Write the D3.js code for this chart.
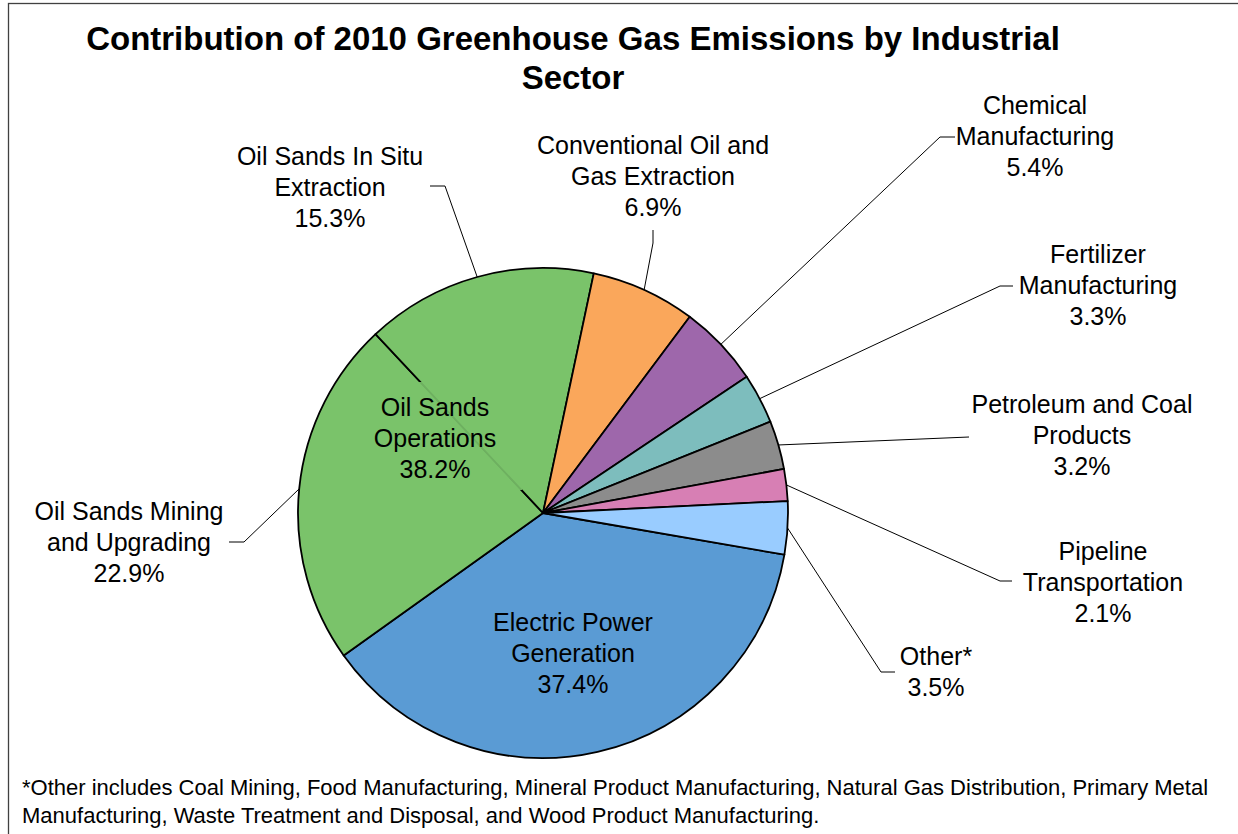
<!DOCTYPE html>
<html>
<head>
<meta charset="utf-8">
<script src="https://cdn.jsdelivr.net/npm/d3@7"></script>
<style>
  html, body { margin: 0; padding: 0; background: #fff; }
  svg text { font-family: "Liberation Sans", Arial, sans-serif; fill: #000; }
</style>
</head>
<body>
<svg id="chart" width="1238" height="834"></svg>
<script>
// ---- data ----
const sectors = [
  "Electric Power Generation",
  "Oil Sands Mining and Upgrading",
  "Oil Sands In Situ Extraction",
  "Conventional Oil and Gas Extraction",
  "Chemical Manufacturing",
  "Fertilizer Manufacturing",
  "Petroleum and Coal Products",
  "Pipeline Transportation",
  "Other*"
];
const labelLines = [
  ["Electric Power", "Generation"],
  ["Oil Sands Mining", "and Upgrading"],
  ["Oil Sands In Situ", "Extraction"],
  ["Conventional Oil and", "Gas Extraction"],
  ["Chemical", "Manufacturing"],
  ["Fertilizer", "Manufacturing"],
  ["Petroleum and Coal", "Products"],
  ["Pipeline", "Transportation"],
  ["Other*"]
];
const values = [37.4, 22.9, 15.3, 6.9, 5.4, 3.3, 3.2, 2.1, 3.5];
const colors = ["#5A9BD4", "#7AC36A", "#7AC36A", "#FAA75B", "#9E67AB", "#7DBDBD", "#8C8C8C", "#D77FB4", "#99CCFF"];
const groupLabel = ["Oil Sands", "Operations"];
const groupMembers = [1, 2];
const titleLines = ["Contribution of 2010 Greenhouse Gas Emissions by Industrial", "Sector"];
const footnoteLines = [
  "*Other includes Coal Mining, Food Manufacturing, Mineral Product Manufacturing, Natural Gas Distribution, Primary Metal",
  "Manufacturing, Waste Treatment and Disposal, and Wood Product Manufacturing."
];

// ---- layout ----
const cx = 543, cy = 513, R = 245;
const startDeg = 99.8;
const lineGap = 31;
const labelLayout = [
  { x: 573, y: 631 },
  { x: 129, y: 520, leader: [[244, 542], [229, 542]] },
  { x: 330, y: 165, leader: [[445, 186], [430, 186]] },
  { x: 653, y: 154, leader: [[653, 243], [653, 230]] },
  { x: 1035, y: 114, leader: [[940, 137], [955, 137]] },
  { x: 1098, y: 263, leader: [[1000, 286], [1013, 286]] },
  { x: 1082, y: 413, leader: [[969, 437]] },
  { x: 1103, y: 560, leader: [[1000, 581], [1012, 581]] },
  { x: 936, y: 665, leader: [[881, 672], [895, 672]] }
];
const groupLayout = { x: 435, y: 416, box: [348, 382, 174, 108] };

const svg = d3.select("#chart");

// frame
svg.append("rect")
  .attr("x", 8.5).attr("y", 3.5).attr("width", 1240).attr("height", 840)
  .attr("fill", "#fff").attr("stroke", "#404040").attr("stroke-width", 1.3);

// title
svg.append("g").selectAll("text").data(titleLines).join("text")
  .attr("x", 573).attr("y", (d, i) => 50 + i * 39)
  .attr("text-anchor", "middle")
  .attr("font-size", 33).attr("font-weight", "bold")
  .text(d => d);

// pie
const rad = Math.PI / 180;
const pie = d3.pie().sort(null).value(d => d)
  .startAngle(startDeg * rad).endAngle(startDeg * rad + 2 * Math.PI);
const arcs = pie(values);
const arc = d3.arc().innerRadius(0).outerRadius(R);

const g = svg.append("g").attr("transform", `translate(${cx},${cy})`);
g.selectAll("path").data(arcs).join("path")
  .attr("d", arc)
  .attr("fill", (d, i) => colors[i])
  .attr("stroke", "#000").attr("stroke-width", 1.8).attr("stroke-linejoin", "round");

// group label box over the oil sands boundary
const b = groupLayout.box;
svg.append("rect")
  .attr("x", b[0]).attr("y", b[1]).attr("width", b[2]).attr("height", b[3])
  .attr("fill", colors[1]).attr("opacity", 0.9);
const groupValue = d3.sum(groupMembers, i => values[i]);
svg.append("g").selectAll("text").data([...groupLabel, groupValue.toFixed(1) + "%"]).join("text")
  .attr("x", groupLayout.x).attr("y", (d, i) => groupLayout.y + i * lineGap)
  .attr("text-anchor", "middle").attr("font-size", 25)
  .text(d => d);

// leader lines
arcs.forEach((a, i) => {
  const lay = labelLayout[i];
  if (!lay.leader) return;
  const mid = (a.startAngle + a.endAngle) / 2;
  const p0 = [cx + R * Math.sin(mid), cy - R * Math.cos(mid)];
  const pts = [p0, ...lay.leader];
  svg.append("path")
    .attr("d", d3.line()(pts))
    .attr("fill", "none").attr("stroke", "#000").attr("stroke-width", 1);
});

// slice labels
arcs.forEach((a, i) => {
  const lay = labelLayout[i];
  const lines = [...labelLines[i], values[i].toFixed(1) + "%"];
  svg.append("g").selectAll("text").data(lines).join("text")
    .attr("x", lay.x).attr("y", (d, k) => lay.y + k * lineGap)
    .attr("text-anchor", "middle").attr("font-size", 25)
    .text(d => d);
});

// footnote
svg.append("g").selectAll("text").data(footnoteLines).join("text")
  .attr("x", 22).attr("y", (d, i) => 795 + i * 28)
  .attr("font-size", 22)
  .text(d => d);
</script>
</body>
</html>
